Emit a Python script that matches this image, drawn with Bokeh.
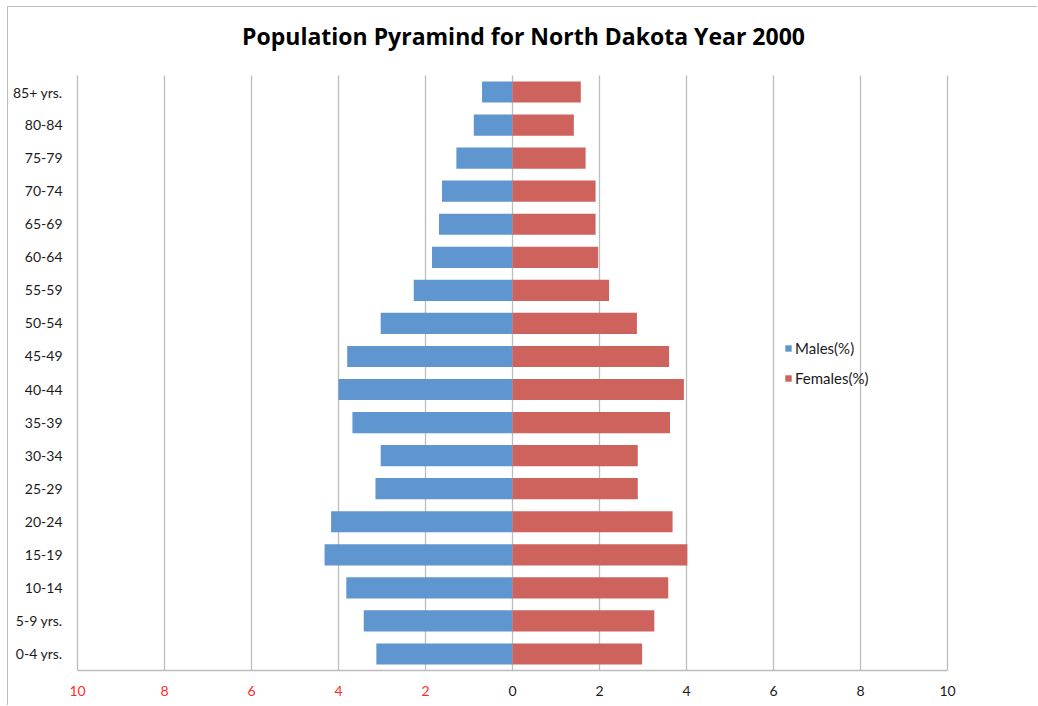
from bokeh.plotting import figure
from bokeh.models import (ColumnDataSource, Range1d, Legend, LegendItem)
from bokeh.core.properties import value
from bokeh.embed import file_html
from bokeh.resources import INLINE

categories = ["0-4 yrs.", "5-9 yrs.", "10-14", "15-19", "20-24", "25-29",
              "30-34", "35-39", "40-44", "45-49", "50-54", "55-59", "60-64",
              "65-69", "70-74", "75-79", "80-84", "85+ yrs."]
males = [3.13, 3.42, 3.82, 4.32, 4.17, 3.15, 3.03, 3.68, 4.00, 3.80, 3.03,
         2.27, 1.85, 1.69, 1.62, 1.29, 0.89, 0.70]
females = [2.98, 3.26, 3.58, 4.02, 3.68, 2.88, 2.88, 3.62, 3.94, 3.60, 2.86,
           2.22, 1.97, 1.91, 1.91, 1.68, 1.41, 1.57]
x_ticks = [-10, -8, -6, -4, -2, 0, 2, 4, 6, 8, 10]
x_tick_labels = ["10", "8", "6", "4", "2", "0", "2", "4", "6", "8", "10"]
x_tick_colors = ["#FF2A2A"] * 5 + ["#1A1A1A"] * 6

MALE_COLOR = "#5F96CF"
FEMALE_COLOR = "#CE625C"
GRID = "#BDBDBD"
FONT = "Lato"

n = len(categories)
X_MIN, X_MAX = x_ticks[0], x_ticks[-1]
PLOT_W = 870                      # pixel width of the -10..10 area
PLOT_H = 595                      # pixel height of the bar area
PX_X = PLOT_W / (X_MAX - X_MIN)
ROW_PX = PLOT_H / n
TOP_BORDER = 52                   # canvas space reserved for the title
PAD_L, PAD_R, PAD_B, PAD_T = 69, 91, 36, 68 - TOP_BORDER
Y_BOTTOM = -0.5
Y_TOP = n - 0.5
LABEL_Y = Y_BOTTOM - 20 / ROW_PX

ypos = list(range(n))
src = ColumnDataSource(dict(y=ypos, male=[-m for m in males], female=females))

p = figure(width=1030, height=699, output_backend="svg", toolbar_location=None,
           x_range=Range1d(X_MIN - PAD_L / PX_X, X_MAX + PAD_R / PX_X),
           y_range=Range1d(Y_BOTTOM - PAD_B / ROW_PX, Y_TOP + PAD_T / ROW_PX),
           min_border_left=0, min_border_right=0, min_border_top=TOP_BORDER,
           min_border_bottom=0)
p.styles = {"margin-left": "7px", "margin-top": "6px",
            "border-left": "1px solid #BDBDBD", "border-top": "1px solid #BDBDBD"}

p.title.text = "Population Pyramind for North Dakota Year 2000"
p.title.text_font = "Open Sans"
p.title.text_font_size = "23px"
p.title.text_font_style = "bold"
p.title.text_color = "#000000"
p.title.align = "center"
p.title.standoff = 16

p.outline_line_color = None
p.background_fill_color = "white"
p.border_fill_color = "white"
p.xaxis.visible = False
p.yaxis.visible = False
p.xgrid.visible = False
p.ygrid.visible = False

# vertical grid lines (incl. the left axis line at -10) and the bottom axis line
p.segment(x0=x_ticks, y0=[Y_BOTTOM] * len(x_ticks), x1=x_ticks,
          y1=[Y_TOP] * len(x_ticks), line_color=GRID, line_width=1.3)
p.segment(x0=[X_MIN], y0=[Y_BOTTOM], x1=[X_MAX], y1=[Y_BOTTOM],
          line_color=GRID, line_width=1.3)

rm = p.hbar(y="y", left=0, right="male", height=0.64, source=src,
            fill_color=MALE_COLOR, line_color=None)
rf = p.hbar(y="y", left=0, right="female", height=0.64, source=src,
            fill_color=FEMALE_COLOR, line_color=None)

# category labels (y axis)
cat_src = ColumnDataSource(dict(x=[X_MIN] * n, y=ypos, text=categories))
p.text(x="x", y="y", text="text", source=cat_src, x_offset=-15,
       text_align="right", text_baseline="middle", text_color="#1A1A1A",
       text_font=value(FONT), text_font_size="14px")

# x tick labels (red for the male side)
lab_src = ColumnDataSource(dict(x=x_ticks, y=[LABEL_Y] * len(x_ticks),
                                text=x_tick_labels, color=x_tick_colors))
p.text(x="x", y="y", text="text", source=lab_src, text_align="center",
       text_baseline="middle", text_color="color", text_font=value(FONT),
       text_font_size="14px")

legend = Legend(items=[LegendItem(label="Males(%)", renderers=[rm]),
                       LegendItem(label="Females(%)", renderers=[rf])],
                location=(776, 318), orientation="vertical",
                glyph_width=8, glyph_height=8, label_height=20, spacing=10,
                padding=0, margin=0, label_standoff=3,
                border_line_color=None, background_fill_alpha=0,
                label_text_font=FONT, label_text_font_size="15px",
                label_text_color="#1A1A1A")
p.add_layout(legend)

open("out.html", "w").write(file_html(p, INLINE))
